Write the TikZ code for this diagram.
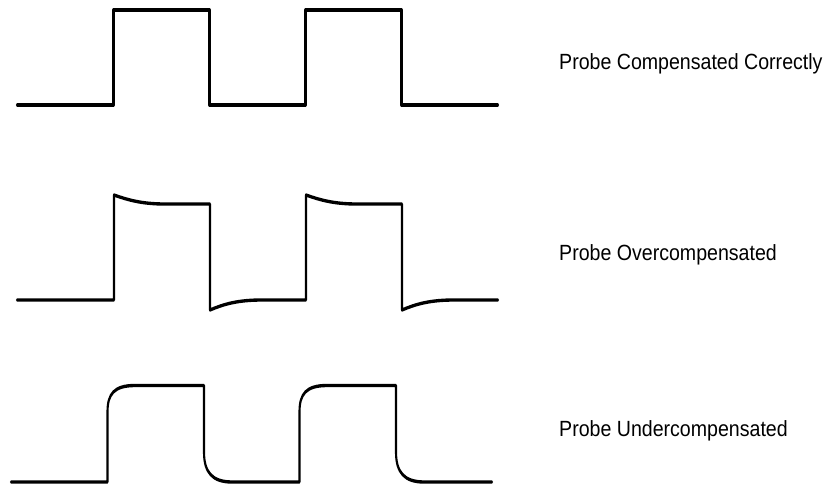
\documentclass[tikz,border=0pt]{standalone}
\usepackage{fontspec}
\setmainfont{Liberation Sans}
\newcommand{\narrowlabel}[1]{\scalebox{0.89}[1]{#1}}
\begin{document}
\begin{tikzpicture}[x=1pt,y=-1pt,
  wave/.style={line width=2.1pt,line join=round,line cap=round,black},
  lab/.style={anchor=base west,inner sep=0pt,font=\fontsize{22}{24}\selectfont}]
\useasboundingbox (0,0) rectangle (828,485);
\begin{scope}[transform canvas={yscale=1.6},y=-0.625pt]
\draw[wave] (17,105) -- (113.5,105) -- (113.5,10) -- (209.5,10) -- (209.5,105) -- (305.5,105) -- (305.5,10) -- (401.5,10) -- (401.5,105) -- (498,105);
\draw[wave] (17,300) -- (114,300) -- (114,195) .. controls (128,200) and (142,204) .. (165,204) -- (210,204) -- (210,310)
  .. controls (224,304) and (238,300) .. (262,300) -- (306,300) -- (306,195) .. controls (320,200) and (334,204) .. (357,204) -- (402,204) -- (402,310)
  .. controls (416,304) and (430,300) .. (454,300) -- (498,300);
\draw[wave] (11,482) -- (107.5,482) -- (107.5,412) .. controls (107.5,394) and (114,385.5) .. (135,385.5) -- (204,385.5) -- (204,452) .. controls (204,472) and (212,482) .. (232,482)
 -- (299.5,482) -- (299.5,412) .. controls (299.5,394) and (306,385.5) .. (327,385.5) -- (396,385.5) -- (396,452) .. controls (396,472) and (404,482) .. (424,482) -- (492,482);
\end{scope}
\node[lab] (a) at (559,69) {\narrowlabel{Probe Compensated Correctly}};
\node[lab] (b) at (559,260) {\narrowlabel{Probe Overcompensated}};
\node[lab] (c) at (559,436) {\narrowlabel{Probe Undercompensated}};
\end{tikzpicture}
\end{document}
